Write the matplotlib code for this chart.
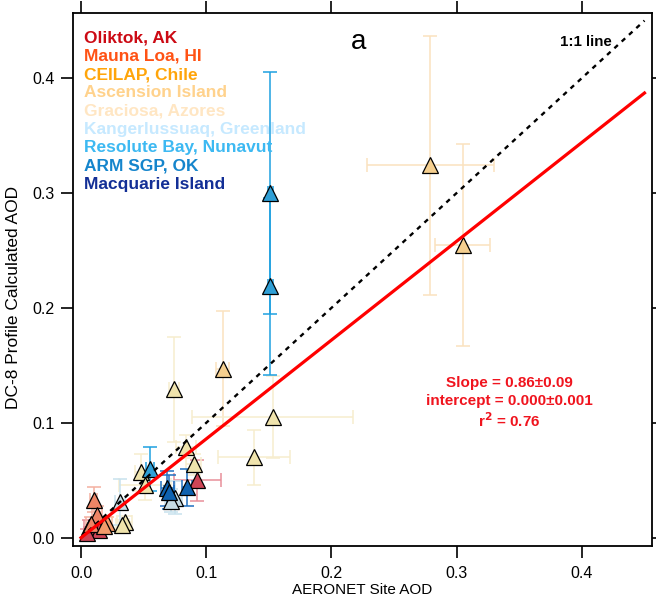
import numpy as np
import matplotlib.pyplot as plt

plt.rcParams['font.family'] = ['Liberation Sans', 'DejaVu Sans']

# site names, text colours, marker fills, error bar colours
sites = ['Oliktok, AK', 'Mauna Loa, HI', 'CEILAP, Chile', 'Ascension Island',
         'Graciosa, Azores', 'Kangerlussuaq, Greenland', 'Resolute Bay, Nunavut',
         'ARM SGP, OK', 'Macquarie Island']
text_colors = ['#CC0A14', '#FF5214', '#FFA50A', '#FFD28C', '#FFE6C3',
               '#C6E9FF', '#3DB9F2', '#1585CC', '#132F96']
fill_colors = ['#CF4556', '#EE8566', '#F39A6A', '#F5CF8F', '#EFE3AC',
               '#C6DDE6', '#2F9FD6', '#0F62B0', '#132F96']
err_colors = ['#E8909A', '#F4B0A0', '#F8C0A0', '#FAE2BF', '#F7EDCE',
              '#C8E2EE', '#1EA0E0', '#2070C0', '#3050A0']

# AERONET AOD (x), DC-8 profile AOD (y) and their uncertainties per site
aeronet = [
    [0.093, 0.006, 0.014, 0.005],
    [0.010, 0.013, 0.008],
    [0.021, 0.018],
    [0.279, 0.305, 0.113],
    [0.153, 0.074, 0.138, 0.084, 0.090, 0.048, 0.051, 0.035, 0.033],
    [0.075, 0.031, 0.072],
    [0.151, 0.151, 0.055],
    [0.085, 0.069, 0.070],
    [],
]
dc8 = [
    [0.050, 0.009, 0.007, 0.004],
    [0.033, 0.020, 0.012],
    [0.013, 0.010],
    [0.324, 0.255, 0.147],
    [0.105, 0.129, 0.070, 0.079, 0.064, 0.057, 0.046, 0.014, 0.011],
    [0.035, 0.031, 0.032],
    [0.300, 0.219, 0.060],
    [0.044, 0.043, 0.040],
    [],
]
aeronet_err = [
    [0.019, 0.004, 0.004, 0.003],
    [0.003, 0.004, 0.004],
    [0.004, 0.004],
    [0.051, 0.022, 0.005],
    [0.064, 0.004, 0.029, 0.008, 0.006, 0.005, 0.021, 0.006, 0.005],
    [0.006, 0.004, 0.005],
    [0.002, 0.002, 0.003],
    [0.004, 0.005, 0.004],
    [],
]
dc8_err = [
    [0.018, 0.006, 0.005, 0.004],
    [0.011, 0.008, 0.006],
    [0.005, 0.004],
    [0.113, 0.088, 0.050],
    [0.036, 0.046, 0.024, 0.010, 0.009, 0.016, 0.013, 0.005, 0.004],
    [0.014, 0.020, 0.010],
    [0.105, 0.077, 0.019],
    [0.016, 0.015, 0.015],
    [],
]

slope = 0.86
intercept = 0.000
fit_x = [0.0, 0.45]
one_to_one = [0.0, 0.45]

fig = plt.figure(figsize=(6.56, 6.0), dpi=100)
ax = fig.add_axes([0.1113, 0.09, 0.8826, 0.8883])

for i in range(len(sites)):
    if len(aeronet[i]) == 0:
        continue
    ax.errorbar(aeronet[i], dc8[i], xerr=aeronet_err[i], yerr=dc8_err[i],
                fmt='none', ecolor=err_colors[i], elinewidth=1.1,
                capsize=5, capthick=1.1, zorder=2)
    ax.plot(aeronet[i], dc8[i], linestyle='none', marker='^', markersize=11,
            markerfacecolor=fill_colors[i], markeredgecolor='black',
            markeredgewidth=0.9, zorder=3)

# regression and 1:1 lines
ax.plot(one_to_one, one_to_one, color='black', lw=1.7, ls=(0, (2.0, 2.2)), zorder=4)
ax.plot(fit_x, [slope * x + intercept for x in fit_x], color='#FF0000', lw=2.3, zorder=5)

ax.set_xlim(-0.0064, 0.456)
ax.set_ylim(-0.0072, 0.4566)
ax.set_xticks([0.0, 0.1, 0.2, 0.3, 0.4])
ax.set_yticks([0.0, 0.1, 0.2, 0.3, 0.4])
ax.set_xticklabels(['0.0', '0.1', '0.2', '0.3', '0.4'])
ax.set_yticklabels(['0.0', '0.1', '0.2', '0.3', '0.4'])
ax.tick_params(direction='out', length=8.5, width=1.2, labelsize=11.5,
               top=True, right=True, pad=5)
ax.tick_params(axis='x', pad=6)
for sp in ax.spines.values():
    sp.set_linewidth(1.3)

ax.set_xlabel('AERONET Site AOD', fontsize=11, labelpad=1)
ax.set_ylabel('DC-8 Profile Calculated AOD', fontsize=12.5, labelpad=8)
ax.yaxis.set_label_coords(-0.09, 0.467)

# site names as coloured text
for i in range(len(sites)):
    ax.text(0.019, 0.9531 - i * 0.0343, sites[i], transform=ax.transAxes,
            color=text_colors[i], fontsize=12.5, fontweight='bold', va='center')

ax.text(0.494, 0.9461, 'a', transform=ax.transAxes, fontsize=20, ha='center', va='center')
ax.text(0.93, 0.9461, '1:1 line', transform=ax.transAxes, fontsize=10.8,
        fontweight='bold', ha='right', va='center')

ax.text(0.7535, 0.3065, 'Slope = 0.86\u00b10.09', transform=ax.transAxes,
        color='#F0141E', fontsize=11, fontweight='bold', ha='center', va='center')
ax.text(0.7535, 0.2722, 'intercept = 0.000\u00b10.001', transform=ax.transAxes,
        color='#F0141E', fontsize=11, fontweight='bold', ha='center', va='center')
ax.text(0.7535, 0.2350, r'r$^{\mathbf{2}}$ = 0.76', transform=ax.transAxes,
        color='#F0141E', fontsize=11, fontweight='bold', ha='center', va='center')

fig.savefig('out.png', dpi=100)
